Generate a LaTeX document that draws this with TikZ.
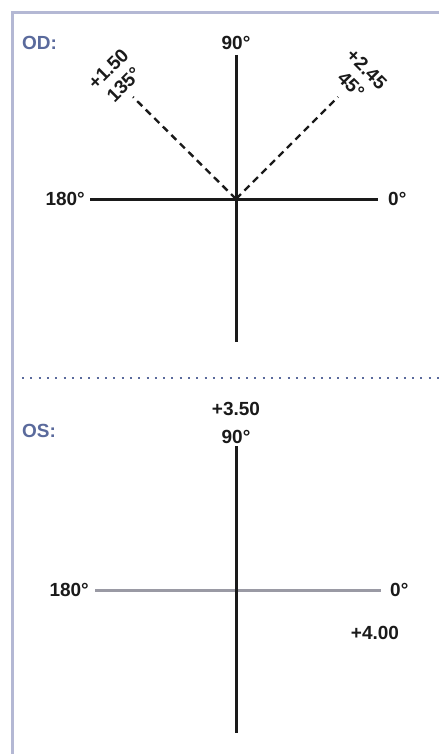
\documentclass[tikz,border=0pt]{standalone}
\usepackage{fontspec}
\setmainfont{Liberation Sans}
\definecolor{frame}{HTML}{B4B8D4}
\definecolor{lab}{HTML}{5A6A9C}
\definecolor{axgray}{HTML}{9A9AA4}
\definecolor{ink}{HTML}{1A1A1A}
\begin{document}
\begin{tikzpicture}[x=1pt,y=-1pt,
  txt/.style={font=\bfseries\fontsize{19}{19}\selectfont, text=ink, inner sep=0pt},
  hdr/.style={font=\bfseries\fontsize{19}{19}\selectfont, text=lab, inner sep=0pt, anchor=west},
  rlab/.style={txt, align=center, font=\bfseries\fontsize{19}{22}\selectfont},
  axis/.style={line width=3pt, draw=ink},
  gaxis/.style={line width=3pt, draw=axgray},
  dashline/.style={line width=2.4pt, draw=ink, dash pattern=on 7pt off 5pt}]
\useasboundingbox (0,0) rectangle (439,754);
% frame
\draw[frame, line width=3.2pt] (439,12.5) -- (12.5,12.5) -- (12.5,754);
% OD
\node[hdr] (od) at (22,43) {OD:};
\coordinate (c1) at (236,199);
\coordinate (t1) at (236,55);
\coordinate (b1) at (236,342);
\coordinate (l1) at (90,199);
\coordinate (r1) at (378,199);
\coordinate (d135) at (133,97);
\coordinate (d45) at (338,97);
\draw[axis] (t1) -- (b1);
\draw[axis] (l1) -- (r1);
\draw[dashline] (c1) -- (d135);
\draw[dashline] (c1) -- (d45);
\node[txt] (n90a) at (236,43) {90°};
\node[txt, anchor=east] (n180a) at (85,199) {180°};
\node[txt, anchor=west] (n0a) at (388,199) {0°};
\node[rlab, rotate=45] (l135) at (116,77) {+1.50\\135°};
\node[rlab, rotate=-45] (l45) at (359,77) {+2.45\\45°};
% separator
\draw[lab, line width=2pt, dash pattern=on 2pt off 6.3pt] (22,378) -- (439,378);
% OS
\node[hdr] (os) at (22,431) {OS:};
\node[txt] (p350) at (236,409) {+3.50};
\node[txt] (n90b) at (236,437) {90°};
\coordinate (t2) at (236,446);
\coordinate (b2) at (236,733);
\coordinate (l2) at (95,590);
\coordinate (r2) at (381,590);
\draw[gaxis] (l2) -- (r2);
\draw[axis] (t2) -- (b2);
\node[txt, anchor=east] (n180b) at (89,590) {180°};
\node[txt, anchor=west] (n0b) at (390,590) {0°};
\node[txt] (p400) at (375,633) {+4.00};
\end{tikzpicture}
\end{document}
